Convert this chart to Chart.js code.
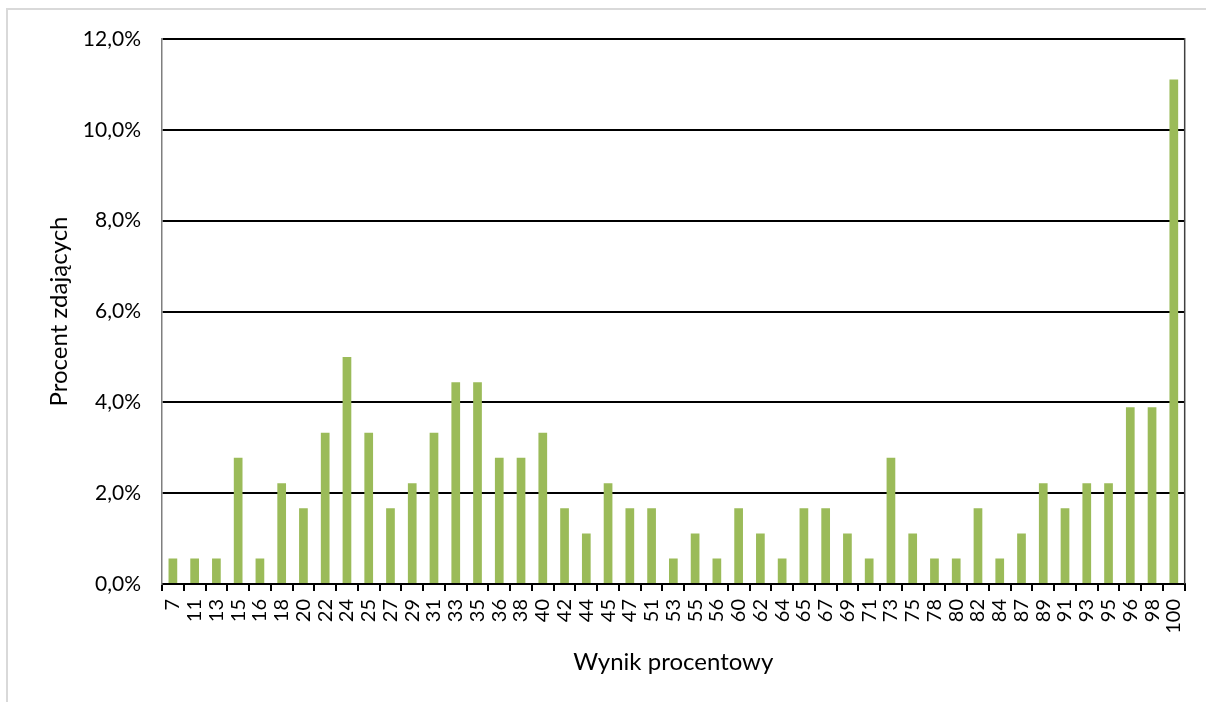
<!DOCTYPE html>
<html>
<head>
<meta charset="utf-8">
<script src="https://cdn.jsdelivr.net/npm/chart.js@4.4.0/dist/chart.umd.min.js"></script>
<style>
  body { margin: 0; background: #fff; }
  #wrap { position: relative; width: 1206px; height: 702px; overflow: hidden; }
  #frame { position: absolute; left: 6px; top: 8px; width: 1210px; height: 720px; border: 2px solid #d9d9d9; box-sizing: border-box; }
  canvas { position: absolute; left: 0; top: 0; }
</style>
</head>
<body>
<div id="wrap">
  <div id="frame"></div>
  <canvas id="chart" width="1206" height="702"></canvas>
</div>
<script>
// wyniki procentowe (kategorie osi X)
const wyniki = ['7','11','13','15','16','18','20','22','24','25','27','29','31','33','35','36','38','40','42','44','45','47','51','53','55','56','60','62','64','65','67','69','71','73','75','78','80','82','84','87','89','91','93','95','96','98','100'];

// procent zdających (%)
const procentZdajacych = [0.56,0.56,0.56,2.78,0.56,2.22,1.67,3.33,5.0,3.33,1.67,2.22,3.33,4.44,4.44,2.78,2.78,3.33,1.67,1.11,2.22,1.67,1.67,0.56,1.11,0.56,1.67,1.11,0.56,1.67,1.67,1.11,0.56,2.78,1.11,0.56,0.56,1.67,0.56,1.11,2.22,1.67,2.22,2.22,3.89,3.89,11.11];

const yMax = 12;
const yStep = 2;

const FONT = 'Lato, "Open Sans", sans-serif';

// ramka obszaru wykresu z prawej strony
const prawaKrawedz = {
    id: 'prawaKrawedz',
    afterDatasetsDraw(chart){
        const {ctx, chartArea:a} = chart;
        ctx.save();
        ctx.strokeStyle = '#404040';
        ctx.lineWidth = 1.5;
        ctx.beginPath();
        ctx.moveTo(a.right, a.top - 1);
        ctx.lineTo(a.right, a.bottom);
        ctx.stroke();
        ctx.restore();
    }
};

new Chart(document.getElementById('chart'), {
    type: 'bar',
    data: {
        labels: wyniki,
        datasets: [{
            label: 'Procent zdających',
            data: procentZdajacych,
            backgroundColor: '#9bbb59',
            borderWidth: 0,
            barPercentage: 0.4,
            categoryPercentage: 1
        }]
    },
    options: {
        responsive: false,
        animation: false,
        layout: {padding: {left: 0, top: 39, right: 18, bottom: 0}},
        plugins: {legend: {display: false}, tooltip: {enabled: false}},
        scales: {
            x: {
                afterFit(s){ s.height = 118; },
                grid: {offset: true, drawOnChartArea: false, drawTicks: true, tickLength: 7, color: '#000', lineWidth: 2},
                border: {display: true, color: '#000', width: 2},
                ticks: {autoSkip: false, maxRotation: 90, minRotation: 90, padding: 8, color: '#000', font: {family: FONT, size: 20}},
                title: {display: true, text: 'Wynik procentowy', color: '#000', font: {family: FONT, size: 24}, padding: {top: 0, bottom: 25}}
            },
            y: {
                min: 0,
                max: yMax,
                afterFit(s){ s.width = 162; },
                grid: {color: '#000', lineWidth: 2, drawTicks: false},
                border: {display: true, color: '#7f7f7f', width: 1.5},
                ticks: {stepSize: yStep, padding: 21, color: '#000', font: {family: FONT, size: 21},
                    callback: v => v.toFixed(1).replace('.', ',') + '%'},
                title: {display: true, text: 'Procent zdających', color: '#000', font: {family: FONT, size: 24}, padding: {top: 45, bottom: 0}}
            }
        }
    },
    plugins: [prawaKrawedz]
});
</script>
</body>
</html>
